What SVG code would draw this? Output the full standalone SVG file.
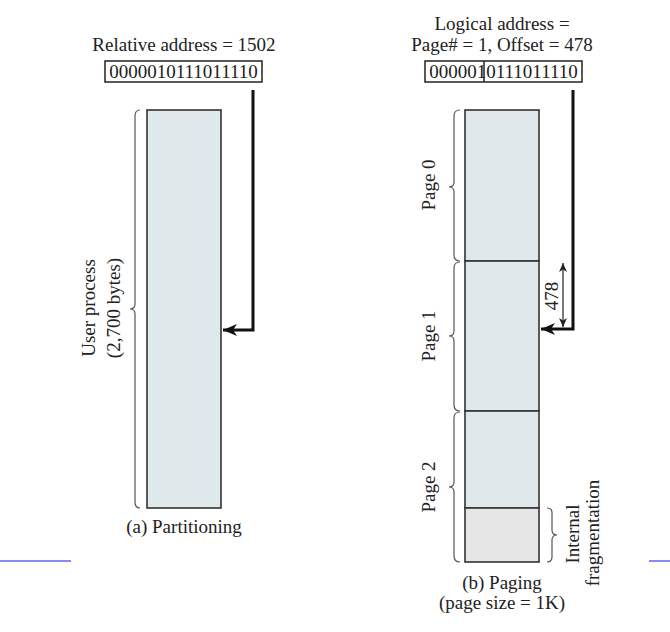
<svg xmlns="http://www.w3.org/2000/svg" width="670" height="632" viewBox="0 0 670 632">
<style>
text{font-family:"Liberation Serif","Times New Roman",serif;font-size:19px;fill:#222;}
.c{text-anchor:middle;}
.mem{fill:#dfe9ec;stroke:#333;stroke-width:1.6;}
.frag{fill:#e6e6e6;stroke:#333;stroke-width:1.6;}
.box{fill:#fff;stroke:#222;stroke-width:1.5;}
.brace{fill:none;stroke:#555;stroke-width:1.2;}
.thick{fill:none;stroke:#111;stroke-width:3;}
.dim{fill:none;stroke:#222;stroke-width:1.2;}
.blue{stroke:#8a8af0;stroke-width:2;}
</style>
<defs>
<marker id="head" markerUnits="userSpaceOnUse" markerWidth="16" markerHeight="12" refX="14" refY="6" orient="auto">
<path d="M0,0 L14,6 L0,12 L4,6 Z" fill="#111"/>
</marker>
<marker id="small" markerUnits="userSpaceOnUse" markerWidth="10" markerHeight="8" refX="9" refY="4" orient="auto-start-reverse">
<path d="M0,0 L9,4 L0,8 L2.5,4 Z" fill="#222"/>
</marker>
</defs>

<!-- (a) Partitioning -->
<g id="left-title"><text class="c" x="184" y="51">Relative address = 1502</text></g>
<g id="left-address">
<rect class="box" x="105" y="61" width="157" height="21"/>
<text class="c" x="183.5" y="77.5">0000010111011110</text>
</g>
<g id="left-process">
<rect class="mem" x="147" y="110" width="74" height="398"/>
</g>
<g id="left-brace">
<path class="brace" d="M140,110 Q135,110 135,116 L135,304 Q135,309 130,309 Q135,309 135,314 L135,502 Q135,508 140,508"/>
<text class="c" transform="translate(95,308) rotate(-90)">User process</text>
<text class="c" transform="translate(120,308) rotate(-90)">(2,700 bytes)</text>
</g>
<g id="left-caption"><text class="c" x="184" y="533">(a) Partitioning</text></g>

<!-- (b) Paging -->
<g id="right-title">
<text class="c" x="502" y="30">Logical address =</text>
<text class="c" x="502" y="51">Page# = 1, Offset = 478</text>
</g>
<g id="right-address">
<rect class="box" x="425" y="61" width="157" height="21"/>
<line x1="484" y1="61" x2="484" y2="82" stroke="#222" stroke-width="1.5"/>
<text class="c" x="503.5" y="77.5">0000010111011110</text>
</g>
<g id="page0">
<rect class="mem" x="465" y="110" width="74" height="151"/>
<path class="brace" d="M460,110 Q454,110 454,116 L454,182 Q454,187 449,187 Q454,187 454,192 L454,255 Q454,261 460,261"/>
<text class="c" transform="translate(435,185) rotate(-90)">Page 0</text>
</g>
<g id="page1">
<rect class="mem" x="465" y="261" width="74" height="150"/>
<path class="brace" d="M460,262 Q454,262 454,268 L454,331 Q454,336 449,336 Q454,336 454,341 L454,405 Q454,411 460,411"/>
<text class="c" transform="translate(435,336) rotate(-90)">Page 1</text>
</g>
<g id="page2">
<rect class="mem" x="465" y="411" width="74" height="97"/>
<rect class="frag" x="465" y="508" width="74" height="54"/>
<path class="brace" d="M460,412 Q454,412 454,418 L454,482 Q454,487 449,487 Q454,487 454,492 L454,556 Q454,562 460,562"/>
<text class="c" transform="translate(435,487) rotate(-90)">Page 2</text>
</g>
<g id="internal-fragmentation">
<path class="brace" d="M547,508 Q552,508 552,513 L552,530 Q552,535 557,535 Q552,535 552,540 L552,557 Q552,562 547,562"/>
<text class="c" transform="translate(579,534) rotate(-90)">Internal</text>
<text class="c" transform="translate(599,533) rotate(-90)">fragmentation</text>
</g>
<g id="right-caption">
<text class="c" x="502" y="589">(b) Paging</text>
<text class="c" x="502" y="609">(page size = 1K)</text>
</g>

<!-- connectors -->
<g id="connectors">
<path class="thick" d="M253,90 L253,330 L223,330" marker-end="url(#head)"/>
<path class="thick" d="M573,90 L573,329 L541,329" marker-end="url(#head)"/>
<line class="dim" x1="563" y1="263" x2="563" y2="327" marker-start="url(#small)" marker-end="url(#small)"/>
<text class="c" transform="translate(558,296) rotate(-90)">478</text>
</g>

<g id="page-rules">
<line class="blue" x1="0" y1="561" x2="71" y2="561"/>
<line class="blue" x1="649" y1="561" x2="670" y2="561"/>
</g>
</svg>
